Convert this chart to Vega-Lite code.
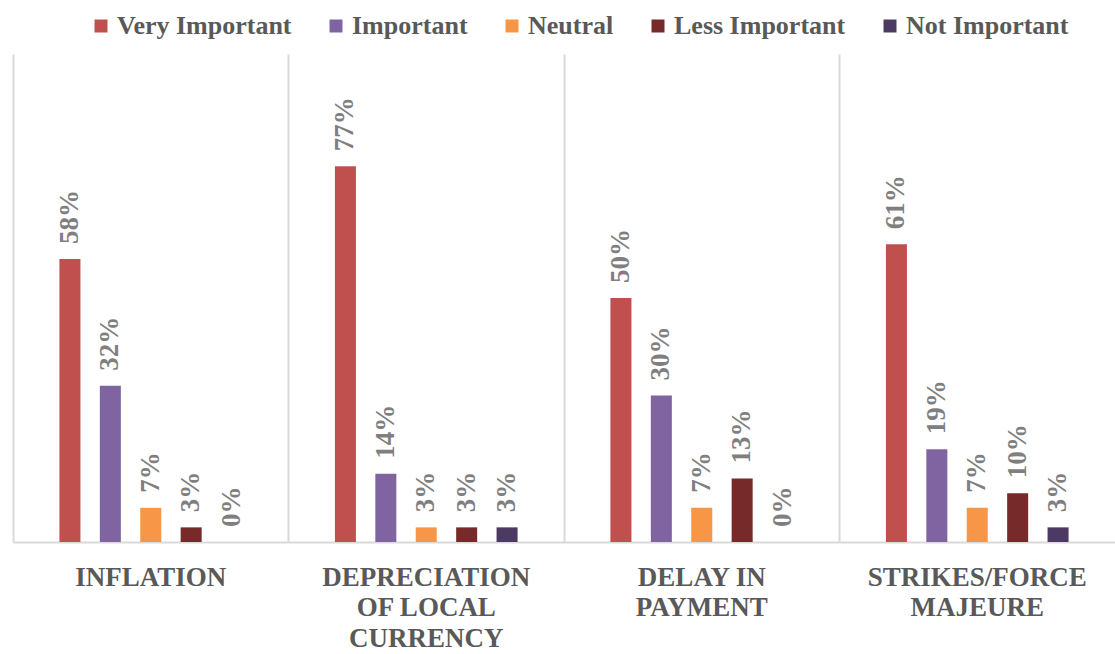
{
  "$schema": "https://vega.github.io/schema/vega-lite/v6.json",
  "width": 1102,
  "height": 488,
  "autosize": {"type": "none"},
  "padding": {"left": 13, "top": 54, "right": 0, "bottom": 112},
  "background": "white",
  "config": {"view": {"stroke": null}},
  "data": {
    "values": [
      {"cat": "INFLATION", "level": "Very Important", "v": 0.58},
      {"cat": "INFLATION", "level": "Important", "v": 0.32},
      {"cat": "INFLATION", "level": "Neutral", "v": 0.07},
      {"cat": "INFLATION", "level": "Less Important", "v": 0.03},
      {"cat": "INFLATION", "level": "Not Important", "v": 0.0},
      {"cat": "DEPRECIATION OF LOCAL CURRENCY", "level": "Very Important", "v": 0.77},
      {"cat": "DEPRECIATION OF LOCAL CURRENCY", "level": "Important", "v": 0.14},
      {"cat": "DEPRECIATION OF LOCAL CURRENCY", "level": "Neutral", "v": 0.03},
      {"cat": "DEPRECIATION OF LOCAL CURRENCY", "level": "Less Important", "v": 0.03},
      {"cat": "DEPRECIATION OF LOCAL CURRENCY", "level": "Not Important", "v": 0.03},
      {"cat": "DELAY IN PAYMENT", "level": "Very Important", "v": 0.50},
      {"cat": "DELAY IN PAYMENT", "level": "Important", "v": 0.30},
      {"cat": "DELAY IN PAYMENT", "level": "Neutral", "v": 0.07},
      {"cat": "DELAY IN PAYMENT", "level": "Less Important", "v": 0.13},
      {"cat": "DELAY IN PAYMENT", "level": "Not Important", "v": 0.0},
      {"cat": "STRIKES/FORCE MAJEURE", "level": "Very Important", "v": 0.61},
      {"cat": "STRIKES/FORCE MAJEURE", "level": "Important", "v": 0.19},
      {"cat": "STRIKES/FORCE MAJEURE", "level": "Neutral", "v": 0.07},
      {"cat": "STRIKES/FORCE MAJEURE", "level": "Less Important", "v": 0.10},
      {"cat": "STRIKES/FORCE MAJEURE", "level": "Not Important", "v": 0.03}
    ]
  },
  "encoding": {
    "x": {
      "field": "cat",
      "type": "nominal",
      "sort": ["INFLATION", "DEPRECIATION OF LOCAL CURRENCY", "DELAY IN PAYMENT", "STRIKES/FORCE MAJEURE"],
      "scale": {"paddingInner": 0.337, "paddingOuter": 0.1685},
      "axis": {
        "title": null,
        "labelAngle": 0,
        "labelLimit": 0,
        "labelFont": "Liberation Serif",
        "labelFontWeight": "bold",
        "labelFontSize": 27,
        "labelLineHeight": 30.5,
        "labelColor": "#595959",
        "labelBaseline": "top",
        "labelPadding": 22,
        "labelExpr": "datum.value == 'DEPRECIATION OF LOCAL CURRENCY' ? ['DEPRECIATION', 'OF LOCAL', 'CURRENCY'] : datum.value == 'DELAY IN PAYMENT' ? ['DELAY IN', 'PAYMENT'] : datum.value == 'STRIKES/FORCE MAJEURE' ? ['STRIKES/FORCE', 'MAJEURE'] : datum.value",
        "ticks": false,
        "bandPosition": -0.2541,
        "domainColor": "#d9d9d9",
        "domainWidth": 2,
        "grid": true,
        "gridColor": "#d9d9d9",
        "gridWidth": 2
      }
    },
    "xOffset": {
      "field": "level",
      "type": "nominal",
      "sort": ["Very Important", "Important", "Neutral", "Less Important", "Not Important"],
      "scale": {"paddingInner": 0.48, "paddingOuter": 0}
    },
    "y": {
      "field": "v",
      "type": "quantitative",
      "scale": {"domain": [0, 1]},
      "axis": null
    }
  },
  "layer": [
    {
      "mark": {"type": "bar"},
      "encoding": {
        "color": {
          "field": "level",
          "type": "nominal",
          "sort": ["Very Important", "Important", "Neutral", "Less Important", "Not Important"],
          "scale": {
            "domain": ["Very Important", "Important", "Neutral", "Less Important", "Not Important"],
            "range": ["#c0504d", "#8064a2", "#f79646", "#772a2a", "#4d3a63"]
          },
          "legend": {
            "title": null,
            "orient": "none",
            "direction": "horizontal",
            "legendX": 75,
            "legendY": -41,
            "symbolType": "square",
            "symbolSize": 169,
            "symbolStrokeWidth": 0,
            "labelFont": "Liberation Serif",
            "labelFontWeight": "bold",
            "labelFontSize": 26,
            "labelColor": "#595959",
            "labelOffset": 3,
            "labelLimit": 0,
            "columnPadding": 31
          }
        }
      }
    },
    {
      "mark": {
        "type": "text",
        "angle": 270,
        "align": "left",
        "baseline": "middle",
        "dx": 15,
        "font": "Liberation Serif",
        "fontWeight": "bold",
        "fontSize": 27,
        "color": "#7f7f7f"
      },
      "encoding": {
        "text": {"field": "v", "type": "quantitative", "format": ".0%"}
      }
    }
  ]
}
